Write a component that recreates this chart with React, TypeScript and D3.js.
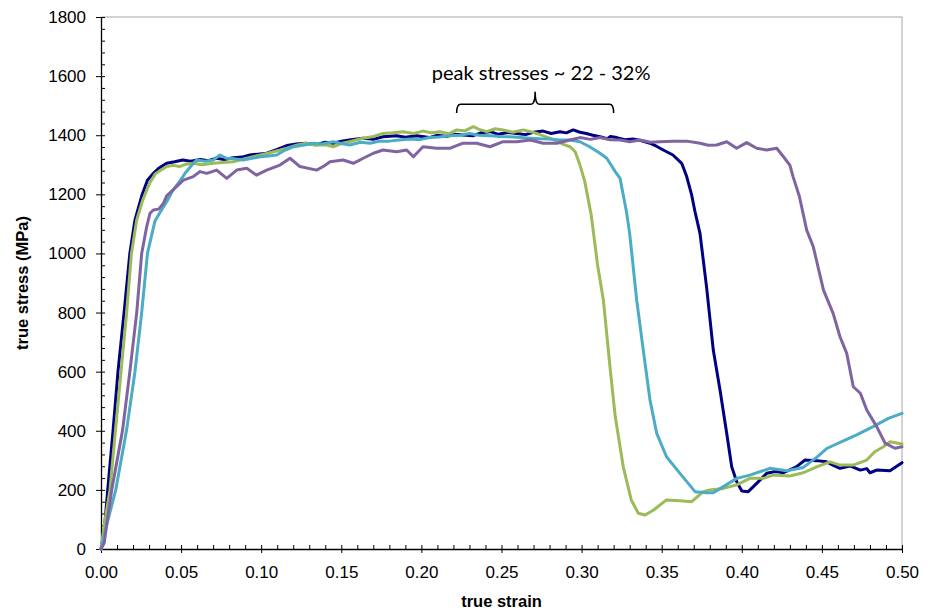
import React, { useEffect, useRef } from 'react';
import * as d3 from 'd3';

// tick values
const strainTicks = [0, 0.05, 0.1, 0.15, 0.2, 0.25, 0.3, 0.35, 0.4, 0.45, 0.5];
const stressTicks = [0, 200, 400, 600, 800, 1000, 1200, 1400, 1600, 1800];

// [true strain, true stress (MPa)]
const navySeries: [number, number][] = [
  [0, 0], [0.002, 60], [0.0042, 200], [0.0075, 400], [0.0106, 600], [0.0144, 800], [0.018, 1000],
  [0.0212, 1113], [0.0256, 1198], [0.029, 1248], [0.0327, 1271], [0.036, 1288], [0.041, 1305],
  [0.046, 1310], [0.051, 1316], [0.056, 1312], [0.062, 1318], [0.067, 1314], [0.072, 1322],
  [0.077, 1318], [0.0825, 1324], [0.088, 1326], [0.093, 1333], [0.098, 1336], [0.1034, 1339],
  [0.11, 1352], [0.116, 1365], [0.122, 1370], [0.128, 1373], [0.134, 1368], [0.14, 1376],
  [0.145, 1373], [0.15, 1380], [0.156, 1385], [0.1636, 1390], [0.17, 1386], [0.176, 1395],
  [0.1846, 1398], [0.19, 1393], [0.197, 1398], [0.205, 1392], [0.21, 1400], [0.216, 1396],
  [0.221, 1403], [0.226, 1401], [0.232, 1398], [0.237, 1408], [0.243, 1412], [0.248, 1403],
  [0.254, 1409], [0.2595, 1406], [0.265, 1402], [0.27, 1410], [0.276, 1414], [0.281, 1406],
  [0.2865, 1412], [0.2905, 1408], [0.2947, 1418], [0.299, 1410], [0.303, 1406], [0.307, 1400],
  [0.3115, 1395], [0.316, 1388], [0.318, 1396], [0.322, 1392], [0.327, 1385], [0.332, 1387],
  [0.337, 1382], [0.3427, 1373], [0.347, 1362], [0.351, 1350], [0.357, 1333], [0.3625, 1305],
  [0.3656, 1260], [0.3687, 1198], [0.3708, 1141], [0.3739, 1068], [0.378, 887], [0.3822, 673],
  [0.3864, 538], [0.3906, 391], [0.3937, 278], [0.3968, 228], [0.4, 196], [0.404, 194],
  [0.4093, 222], [0.4155, 256], [0.421, 262], [0.426, 258], [0.434, 278], [0.4395, 301],
  [0.4467, 299], [0.453, 295], [0.4575, 282], [0.4613, 273], [0.4675, 281], [0.474, 267],
  [0.478, 272], [0.48, 258], [0.4842, 267], [0.4925, 265], [0.5, 292],
];

const greenSeries: [number, number][] = [
  [0, 0], [0.002, 80], [0.0056, 200], [0.009, 400], [0.0125, 600], [0.016, 800], [0.019, 1000],
  [0.0223, 1113], [0.026, 1180], [0.029, 1220], [0.0306, 1240], [0.034, 1270], [0.038, 1284],
  [0.041, 1294], [0.045, 1298], [0.049, 1294], [0.053, 1302], [0.0576, 1305], [0.063, 1300],
  [0.07, 1305], [0.076, 1308], [0.0825, 1310], [0.088, 1318], [0.095, 1327], [0.101, 1335],
  [0.1076, 1344], [0.112, 1350], [0.116, 1356], [0.122, 1366], [0.128, 1373], [0.134, 1366],
  [0.14, 1368], [0.145, 1361], [0.15, 1372], [0.155, 1378], [0.16, 1385], [0.1636, 1390],
  [0.17, 1396], [0.176, 1406], [0.182, 1408], [0.1887, 1412], [0.195, 1406], [0.201, 1414],
  [0.206, 1408], [0.2116, 1412], [0.217, 1405], [0.222, 1418], [0.227, 1415], [0.2324, 1429],
  [0.236, 1420], [0.2408, 1412], [0.246, 1422], [0.251, 1418], [0.257, 1410], [0.2636, 1418],
  [0.268, 1412], [0.272, 1406], [0.276, 1398], [0.28, 1390], [0.2845, 1380], [0.2886, 1369],
  [0.2928, 1361], [0.296, 1344], [0.299, 1299], [0.302, 1243], [0.306, 1130], [0.31, 960],
  [0.3136, 842], [0.3177, 617], [0.321, 448], [0.326, 278], [0.331, 166], [0.3354, 121],
  [0.3396, 115], [0.345, 132], [0.353, 166], [0.3614, 163], [0.3687, 160], [0.376, 194],
  [0.38, 200], [0.3885, 205], [0.3968, 217], [0.405, 239], [0.4134, 239], [0.4197, 250],
  [0.43, 247], [0.4384, 258], [0.4467, 278], [0.455, 295], [0.4613, 284], [0.4696, 284],
  [0.478, 301], [0.483, 329], [0.4884, 346], [0.4925, 363], [0.5, 355],
];

const cyanSeries: [number, number][] = [
  [0, 0], [0.003, 70], [0.0092, 200], [0.016, 403], [0.0212, 600], [0.0254, 800], [0.029, 1000],
  [0.0337, 1110], [0.037, 1140], [0.041, 1175], [0.045, 1215], [0.049, 1243], [0.053, 1275],
  [0.0576, 1305], [0.0597, 1316], [0.065, 1312], [0.07, 1316], [0.0743, 1333], [0.0785, 1322],
  [0.0835, 1320], [0.0888, 1316], [0.0993, 1327], [0.1045, 1330], [0.1097, 1333], [0.115, 1350],
  [0.12, 1361], [0.126, 1366], [0.1325, 1373], [0.138, 1370], [0.145, 1378], [0.15, 1372],
  [0.1554, 1367], [0.162, 1376], [0.168, 1373], [0.174, 1380], [0.18, 1380], [0.186, 1384],
  [0.193, 1387], [0.199, 1385], [0.205, 1392], [0.211, 1394], [0.218, 1398], [0.224, 1400],
  [0.23, 1406], [0.236, 1400], [0.243, 1398], [0.249, 1396], [0.2553, 1395], [0.262, 1392],
  [0.268, 1390], [0.274, 1388], [0.28, 1387], [0.2865, 1384], [0.2928, 1384], [0.299, 1378],
  [0.305, 1361], [0.3115, 1339], [0.3157, 1322], [0.321, 1277], [0.324, 1254], [0.326, 1198],
  [0.328, 1141], [0.33, 1068], [0.3344, 842], [0.3385, 673], [0.3427, 504], [0.3469, 391],
  [0.353, 312], [0.3614, 256], [0.3708, 194], [0.378, 190], [0.3822, 190], [0.3885, 211],
  [0.3968, 239], [0.405, 250], [0.4176, 273], [0.428, 265], [0.4384, 276], [0.4467, 310],
  [0.453, 340], [0.4634, 366], [0.4717, 386], [0.482, 414], [0.4915, 442], [0.5, 459],
];

const purpleSeries: [number, number][] = [
  [0, 0], [0.002, 20], [0.004, 100], [0.0067, 200], [0.0135, 403], [0.018, 600], [0.0223, 800],
  [0.0254, 1000], [0.0285, 1090], [0.0306, 1136], [0.0327, 1147], [0.036, 1150], [0.039, 1170],
  [0.041, 1195], [0.045, 1215], [0.0514, 1248], [0.0576, 1260], [0.0618, 1277], [0.066, 1271],
  [0.0722, 1282], [0.0785, 1254], [0.0847, 1282], [0.091, 1288], [0.097, 1265], [0.1034, 1282],
  [0.1117, 1299], [0.118, 1322], [0.1242, 1294], [0.1346, 1282], [0.139, 1295], [0.143, 1310],
  [0.1512, 1316], [0.1575, 1305], [0.1637, 1322], [0.17, 1339], [0.176, 1350], [0.1846, 1344],
  [0.1908, 1350], [0.195, 1327], [0.201, 1361], [0.2095, 1356], [0.218, 1356], [0.226, 1373],
  [0.2345, 1373], [0.2428, 1361], [0.251, 1378], [0.2595, 1378], [0.268, 1384], [0.276, 1373],
  [0.2845, 1373], [0.2928, 1384], [0.299, 1392], [0.3055, 1386], [0.3115, 1392], [0.318, 1385],
  [0.324, 1384], [0.33, 1378], [0.3365, 1384], [0.343, 1376], [0.349, 1378], [0.357, 1380],
  [0.3656, 1380], [0.374, 1373], [0.379, 1366], [0.3843, 1367], [0.3906, 1378], [0.3968, 1356],
  [0.403, 1375], [0.4093, 1356], [0.4155, 1350], [0.4218, 1356], [0.426, 1327], [0.43, 1299],
  [0.432, 1260], [0.436, 1192], [0.4405, 1079], [0.4446, 1023], [0.451, 876], [0.457, 797],
  [0.4613, 718], [0.4655, 662], [0.4696, 549], [0.474, 527], [0.478, 470], [0.4842, 414],
  [0.4894, 358], [0.4956, 341], [0.5, 346],
];

const seriesColors = ['#000080', '#9BBB59', '#4BACC6', '#8064A2'];
const allSeries = [navySeries, greenSeries, cyanSeries, purpleSeries];

// annotation: brace over the strain range of the peaks
const braceStrain = [0.222, 0.32];
const braceStress = { foot: 1475, bar: 1505, tip: 1547 };
const annotationText = 'peak stresses ~ 22 - 32%';

const W = 931;
const H = 612;
const margin = { top: 17, right: 29, bottom: 63, left: 101 };

export default function App() {
  const ref = useRef<SVGSVGElement>(null);

  useEffect(() => {
    const svg = d3.select(ref.current);
    svg.selectAll('*').remove();

    const x = d3.scaleLinear().domain([0, 0.5]).range([margin.left, W - margin.right]);
    const y = d3.scaleLinear().domain([0, 1800]).range([H - margin.bottom, margin.top]);

    const font = '"Liberation Sans", Arial, sans-serif';

    // plot frame (grey top/right)
    svg.append('path')
      .attr('d', `M${x(0)},${y(1800)}H${x(0.5)}V${y(0)}`)
      .attr('fill', 'none')
      .attr('stroke', '#a6a6a6')
      .attr('stroke-width', 1);

    // minor ticks inside the plot
    const minorX = d3.range(0, 51).map(i => i / 100);
    const minorY = d3.range(0, 46).map(i => i * 40);

    svg.append('g')
      .attr('transform', `translate(0,${y(0)})`)
      .call(d3.axisTop(x).tickValues(minorX).tickSize(4).tickFormat(() => ''))
      .call(g => g.select('.domain').remove());

    svg.append('g')
      .attr('transform', `translate(${x(0)},0)`)
      .call(d3.axisRight(y).tickValues(minorY).tickSize(4).tickFormat(() => ''))
      .call(g => g.select('.domain').remove());

    // major axes
    const xAxis = svg.append('g')
      .attr('transform', `translate(0,${y(0)})`)
      .call(d3.axisBottom(x).tickValues(strainTicks).tickSizeInner(4).tickSizeOuter(0)
        .tickPadding(13).tickFormat(d3.format('.2f')));

    const yAxis = svg.append('g')
      .attr('transform', `translate(${x(0)},0)`)
      .call(d3.axisLeft(y).tickValues(stressTicks).tickSizeInner(5).tickSizeOuter(0)
        .tickPadding(10).tickFormat(d3.format('d')));

    [xAxis, yAxis].forEach(a => {
      a.selectAll('text').attr('font-family', font).attr('font-size', 17).attr('fill', '#000');
      a.select('.domain').attr('stroke', '#000').attr('stroke-width', 1.3);
    });
    svg.selectAll('.tick line').attr('stroke', '#000');

    // curves
    const line = d3.line<[number, number]>()
      .x(d => x(d[0]))
      .y(d => y(d[1]))
      .curve(d3.curveLinear);

    allSeries.forEach((pts, i) => {
      svg.append('path')
        .datum(pts)
        .attr('d', line)
        .attr('fill', 'none')
        .attr('stroke', seriesColors[i])
        .attr('stroke-width', 3)
        .attr('stroke-linejoin', 'round')
        .attr('stroke-linecap', 'round');
    });

    // axis titles
    svg.append('text')
      .attr('transform', `translate(22,${(y(0) + y(1800)) / 2}) rotate(-90)`)
      .attr('text-anchor', 'middle')
      .attr('dy', '0.35em')
      .attr('font-family', font)
      .attr('font-weight', 'bold')
      .attr('font-size', 16.5)
      .text('true stress (MPa)');

    svg.append('text')
      .attr('x', (x(0) + x(0.5)) / 2)
      .attr('y', 607)
      .attr('text-anchor', 'middle')
      .attr('font-family', font)
      .attr('font-weight', 'bold')
      .attr('font-size', 16.5)
      .text('true strain');

    // brace + label
    const x0 = x(braceStrain[0]);
    const x1 = x(braceStrain[1]);
    const xm = (x0 + x1) / 2;
    const yf = y(braceStress.foot);
    const yb = y(braceStress.bar);
    const yt = y(braceStress.tip);
    svg.append('path')
      .attr('d', `M${x0},${yf} Q${x0},${yb} ${x0 + 4},${yb} H${xm - 4} Q${xm},${yb} ${xm},${yt}`
        + ` Q${xm},${yb} ${xm + 4},${yb} H${x1 - 4} Q${x1},${yb} ${x1},${yf}`)
      .attr('fill', 'none')
      .attr('stroke', '#000')
      .attr('stroke-width', 1.6);

    svg.append('text')
      .attr('x', xm + 6)
      .attr('y', 80)
      .attr('text-anchor', 'middle')
      .attr('font-family', 'Lato, "Open Sans", sans-serif')
      .attr('font-size', 20)
      .attr('fill', '#000')
      .text(annotationText);
  }, []);

  return (
    <svg
      ref={ref}
      width={W}
      height={H}
      style={{ position: 'absolute', left: 0, top: 0, background: '#fff' }}
    />
  );
}
